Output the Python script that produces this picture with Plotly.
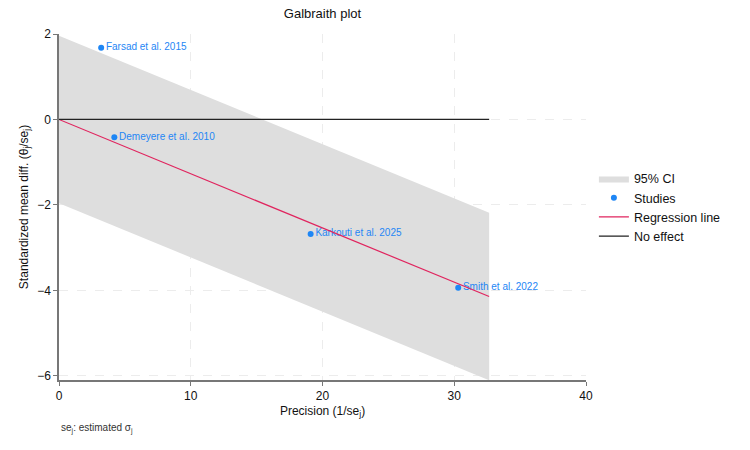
import plotly.graph_objects as go

studies = ["Farsad et al. 2015", "Demeyere et al. 2010", "Karkouti et al. 2025", "Smith et al. 2022"]
precision = [3.2, 4.2, 19.1, 30.3]
std_diff = [1.68, -0.42, -2.68, -3.94]

slope = -0.127
x_max = 32.65
z = 1.96
line_x = [0, x_max]
line_y = [0, slope * x_max]
ci_x = [0, x_max, x_max, 0]
ci_y = [z, slope * x_max + z, slope * x_max - z, -z]

FONT = "Liberation Sans, Arial, sans-serif"
BLUE = "#1e86f5"
RED = "#e0245e"

fig = go.Figure()
fig.add_trace(go.Scatter(x=ci_x, y=ci_y, fill="toself", fillcolor="#dedede",
                         line=dict(width=0), mode="lines", name="95% CI", hoverinfo="skip"))
fig.add_trace(go.Scatter(x=precision, y=std_diff, mode="markers+text", text=studies,
                         textposition="middle right", textfont=dict(color=BLUE, size=10, family=FONT),
                         marker=dict(color=BLUE, size=6), name="Studies"))
fig.add_trace(go.Scatter(x=line_x, y=line_y, mode="lines", line=dict(color=RED, width=1.2),
                         name="Regression line"))
fig.add_trace(go.Scatter(x=[0, x_max], y=[0, 0], mode="lines", line=dict(color="#222222", width=1.2),
                         name="No effect"))

fig.update_layout(
    width=750, height=450,
    margin=dict(l=59, r=164, t=34, b=70),
    plot_bgcolor="white", paper_bgcolor="white",
    font=dict(family=FONT, size=12, color="#111111"),
    title=dict(text="Galbraith plot", x=(59 + 586) / 2 / 750, xanchor="center", y=1 - 13 / 450,
               yanchor="middle", font=dict(size=13)),
    legend=dict(x=1.015, y=0.625, xanchor="left", yanchor="top", font=dict(size=12.5),
                bgcolor="rgba(0,0,0,0)", tracegroupgap=2),
    annotations=[dict(text="se<sub>j</sub>: estimated σ<sub>j</sub>", xref="paper", yref="paper",
                      x=0, y=-0.117, xanchor="left", yanchor="top", showarrow=False,
                      font=dict(size=10, color="#333333"))],
)
fig.update_xaxes(range=[0, 40], tickvals=[0, 10, 20, 30, 40], showline=True, linecolor="#777777",
                 linewidth=1.5, ticks="outside", ticklen=4, tickcolor="#777777",
                 showgrid=True, gridcolor="#ececec", griddash="dash", zeroline=False,
                 title=dict(text="Precision (1/se<sub>j</sub>)", font=dict(size=12), standoff=4),
                 tickfont=dict(size=12))
fig.update_yaxes(range=[-6.1, 2], tickvals=[2, 0, -2, -4, -6], showline=True, linecolor="#777777",
                 linewidth=1.5, ticks="outside", ticklen=4, tickcolor="#777777",
                 showgrid=True, gridcolor="#ececec", griddash="dash", zeroline=False,
                 title=dict(text="Standardized mean diff. (θ<sub>j</sub>/se<sub>j</sub>)", font=dict(size=12), standoff=6),
                 tickfont=dict(size=12))

fig.write_html("out.html")
